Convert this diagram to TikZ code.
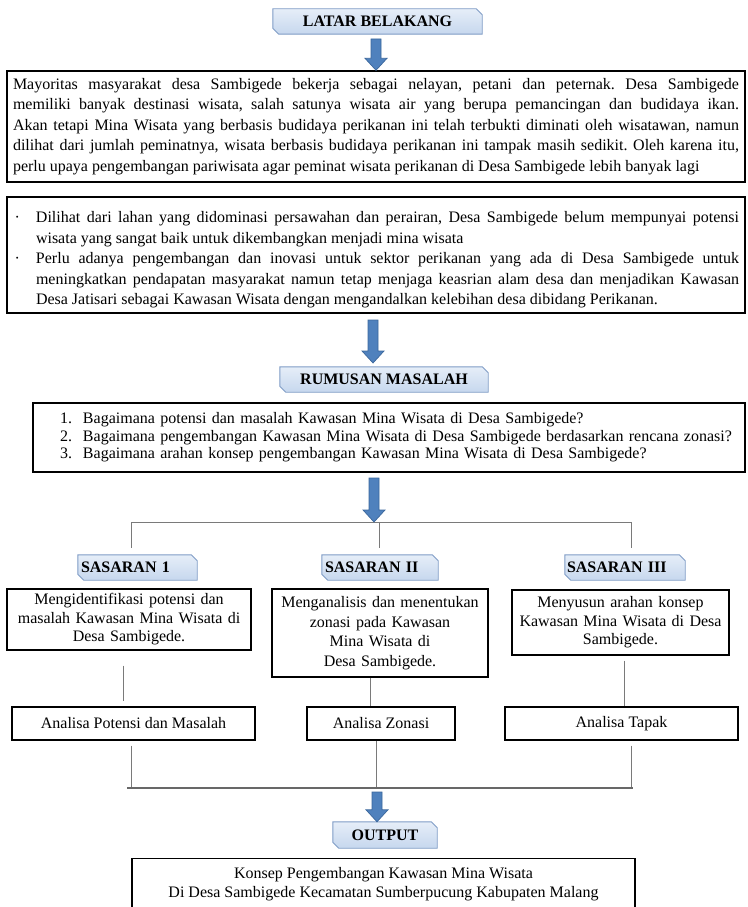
\documentclass[tikz,border=0pt]{standalone}
\usepackage{fontspec}
\setmainfont{Liberation Serif}
\usetikzlibrary{calc,backgrounds}
\frenchspacing

\definecolor{hdrtop}{HTML}{E6EEF8}
\definecolor{hdrbot}{HTML}{C6D7EE}
\definecolor{hdredge}{HTML}{7F9CC6}
\definecolor{arrfill}{HTML}{4F81BD}
\definecolor{arredge}{HTML}{3B679C}
\definecolor{connclr}{HTML}{7A7A7A}

\tikzset{
  every node/.style={font=\fontsize{16}{19.5}\selectfont},
  txtbox/.style={draw=black, line width=1.4pt, inner xsep=6pt, inner ysep=0pt, align=center},
  hdr/.style={inner xsep=3pt, inner ysep=0pt, font=\fontsize{16}{19}\selectfont\bfseries, minimum height=25pt},
  hdrframe/.style={top color=hdrtop, bottom color=hdrbot, draw=hdredge, line width=0.9pt},
  conn/.style={draw=connclr, line width=1pt},
  busline/.style={draw=connclr!85!black, line width=1.6pt},
}

\newcommand\hdrshape[1]{%
  \begin{scope}[on background layer]
    \path[hdrframe] (#1.north west) -- ([xshift=-6pt]#1.north east) -- ([yshift=-6pt]#1.north east)
      -- (#1.south east) -- ([xshift=6pt]#1.south west) -- ([yshift=6pt]#1.south west) -- cycle;
  \end{scope}}

\newcommand\blockarrow[2]{%
  \path[fill=arrfill, draw=arredge, line width=0.7pt] let \p1=(#1), \p2=(#2) in
    (\x1-5pt,\y1) -- (\x1+5pt,\y1) -- (\x1+5pt,\y2+12pt) -- (\x1+11pt,\y2+12pt)
    -- (\x1,\y2) -- (\x1-11pt,\y2+12pt) -- (\x1-5pt,\y2+12pt) -- cycle;}

\newcommand\bitem[1]{\par\noindent\hangindent=23pt\hangafter=1\makebox[23pt][l]{\hspace{1.5pt}\textperiodcentered}#1\par}
\newcommand\litem[2]{\makebox[44pt][l]{\hspace{21pt}#1}#2}

\begin{document}
\begin{tikzpicture}[x=1pt,y=-1pt]
\begin{scope}[on background layer]
  \fill[white] (0,0) rectangle (747,907);
\end{scope}
\useasboundingbox (0,0) rectangle (747,907);

% ---- Latar belakang
\node[hdr, minimum width=209pt] (lb) at (377.5,21.5) {LATAR BELAKANG};
\hdrshape{lb}

\node[txtbox, minimum width=738pt, minimum height=111pt, text width=726pt, align=justify,
      font=\fontsize{16}{20.5}\selectfont] (bgA) at (376,126.5)
{Mayoritas masyarakat desa Sambigede bekerja sebagai nelayan, petani dan peternak. Desa Sambigede\linebreak
memiliki banyak destinasi wisata, salah satunya wisata air yang berupa pemancingan dan budidaya ikan.\linebreak
Akan tetapi Mina Wisata yang berbasis budidaya perikanan ini telah terbukti diminati oleh wisatawan, namun\linebreak
dilihat dari jumlah peminatnya, wisata berbasis budidaya perikanan ini tampak masih sedikit. Oleh karena itu,\linebreak
perlu upaya pengembangan pariwisata agar peminat wisata perikanan di Desa Sambigede lebih banyak lagi};

\node[txtbox, minimum width=738pt, minimum height=116pt, text width=726pt, align=justify,
      font=\fontsize{16}{20.5}\selectfont] (bgB) at (376,255)
{\bitem{Dilihat dari lahan yang didominasi persawahan dan perairan, Desa Sambigede belum mempunyai potensi\linebreak
wisata yang sangat baik untuk dikembangkan menjadi mina wisata}%
\bitem{Perlu adanya pengembangan dan inovasi untuk sektor perikanan yang ada di Desa Sambigede untuk\linebreak
meningkatkan pendapatan masyarakat namun tetap menjaga keasrian alam desa dan menjadikan Kawasan\linebreak
Desa Jatisari sebagai Kawasan Wisata dengan mengandalkan kelebihan desa dibidang Perikanan.}};

% ---- Rumusan masalah
\node[hdr, minimum width=208pt] (rmh) at (384,379.5) {RUMUSAN MASALAH};
\hdrshape{rmh}

\node[txtbox, minimum width=712pt, minimum height=69pt, text width=700pt, align=left,
      font=\fontsize{16}{17.5}\selectfont] (rm) at (389,437.5)
{\litem{1.}{Bagaimana potensi dan masalah Kawasan Mina Wisata di Desa Sambigede?}\\
 \litem{2.}{Bagaimana pengembangan Kawasan Mina Wisata di Desa Sambigede berdasarkan rencana zonasi?}\\
 \litem{3.}{Bagaimana arahan konsep pengembangan Kawasan Mina Wisata di Desa Sambigede?}};

% ---- Sasaran
\node[hdr, minimum width=119pt, text width=113pt, align=left] (s1h) at (137.5,567.5) {SASARAN 1};
\hdrshape{s1h}
\node[hdr, minimum width=116pt, text width=110pt, align=left] (s2h) at (380,567.5) {SASARAN II};
\hdrshape{s2h}
\node[hdr, minimum width=120pt, text width=116pt, inner xsep=2pt, align=left] (s3h) at (625,567.5) {SASARAN III};
\hdrshape{s3h}

\node[txtbox, minimum width=244pt, minimum height=61pt, text width=232pt, font=\fontsize{16}{18.5}\selectfont] (s1) at (129,619.5)
{Mengidentifikasi potensi dan\\ masalah Kawasan Mina Wisata di\\ Desa Sambigede.};
\node[txtbox, minimum width=216pt, minimum height=88pt, text width=204pt] (s2) at (380,633)
{Menganalisis dan menentukan\\ zonasi pada Kawasan\\ Mina Wisata di\\ Desa Sambigede.};
\node[txtbox, minimum width=217pt, minimum height=65pt, text width=205pt, font=\fontsize{16}{18.5}\selectfont] (s3) at (620.5,622.5)
{Menyusun arahan konsep\\ Kawasan Mina Wisata di Desa\\ Sambigede.};

\node[txtbox, minimum width=243pt, minimum height=33pt] (a1) at (133.5,723.5) {Analisa Potensi dan Masalah};
\node[txtbox, minimum width=148pt, minimum height=33pt] (a2) at (381,723.5) {Analisa Zonasi};
\node[txtbox, minimum width=233pt, minimum height=33pt] (a3) at (621.5,723.5) {Analisa Tapak};

% ---- Output
\node[hdr, minimum width=104pt, minimum height=26pt] (outh) at (385,835) {OUTPUT};
\hdrshape{outh}

\node[txtbox, anchor=north, minimum width=503pt, inner ysep=9pt, text depth=30pt,
      font=\fontsize{16}{19}\selectfont] (fin) at (383.5,858)
{Konsep Pengembangan Kawasan Mina Wisata\\ Di Desa Sambigede Kecamatan Sumberpucung Kabupaten Malang};

% ---- Connectors
\coordinate (a1s) at (376,39);
\blockarrow{a1s}{bgA.north}
\coordinate (a2s) at (373,320);
\coordinate (a2e) at (373,363);
\blockarrow{a2s}{a2e}

\coordinate (bt1) at (131,522);
\coordinate (bt2) at (379,522);
\coordinate (bt3) at (631,522);
\coordinate (dr1) at (131,548);
\coordinate (dr2) at (379,548);
\coordinate (dr3) at (631,548);
\draw[conn] (bt1) -- (bt3);
\draw[conn] (bt1) -- (dr1);
\draw[conn] (bt2) -- (dr2);
\draw[conn] (bt3) -- (dr3);
\coordinate (a3s) at (374,478);
\blockarrow{a3s}{bt2}

\draw[conn] ($(s1.south)+(-6,15)$) -- ($(s1.south |- a1.north)+(-6,-5)$);
\draw[conn] ($(s2.south)+(-10,0)$) -- ($(s2.south |- a2.north)+(-10,0)$);
\draw[conn] ($(s3.south)+(3.5,5)$) -- ($(s3.south |- a3.north)+(3.5,0)$);

\coordinate (bb1) at (127,788);
\coordinate (bb3) at (633,788);
\draw[conn] ($(a1.south)+(-2.5,5)$) -- ($(a1.south |- bb1)+(-2.5,0)$);
\draw[conn] ($(a2.south)+(-5,0)$) -- ($(a2.south |- bb1)+(-5,0)$);
\draw[conn] ($(a3.south)+(9.5,5)$) -- ($(a3.south |- bb1)+(9.5,0)$);
\draw[busline] (bb1) -- (bb3);

\coordinate (a4s) at (377,792);
\blockarrow{a4s}{outh.north}
\end{tikzpicture}
\end{document}
